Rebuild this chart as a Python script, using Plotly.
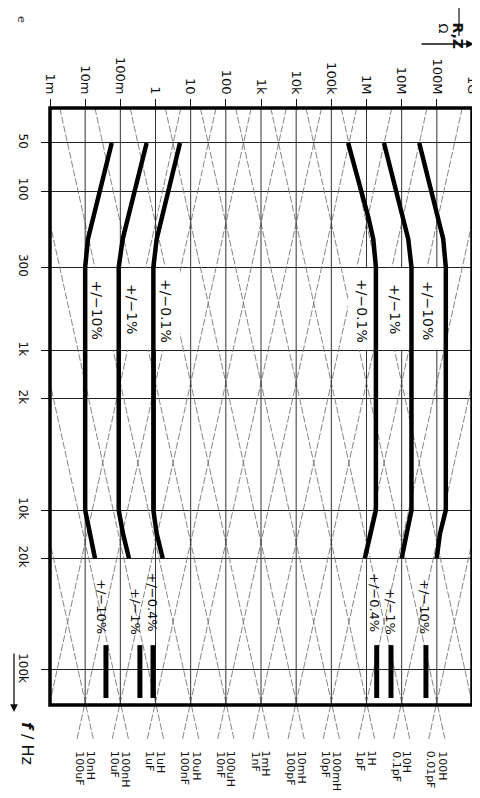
import math
import plotly.graph_objects as go

# ---------------- data ----------------
z_ticks = [1e-3, 1e-2, 1e-1, 1, 10, 100, 1e3, 1e4, 1e5, 1e6, 1e7, 1e8, 1e9]
z_tick_labels = ["1m", "10m", "100m", "1", "10", "100", "1k", "10k", "100k", "1M", "10M", "100M", "1G"]
f_ticks = [50, 100, 300, 1000, 2000, 10000, 20000, 100000]
f_tick_labels = ["50", "100", "300", "1k", "2k", "10k", "20k", "100k"]

# L / C reference lines (decades), labelled below the frame
inductances = [1e-8, 1e-7, 1e-6, 1e-5, 1e-4, 1e-3, 1e-2, 1e-1, 1, 10, 100, 1000]
capacitances = [1e-3, 1e-4, 1e-5, 1e-6, 1e-7, 1e-8, 1e-9, 1e-10, 1e-11, 1e-12, 1e-13, 1e-14]
label_z = [1e-3, 1e-2, 1e-1, 1, 10, 100, 1e3, 1e4, 1e5, 1e6, 1e7, 1e8, 1e9]
c_names = ["1mF", "100uF", "10uF", "1uF", "100nF", "10nF", "1nF", "100pF", "10pF", "1pF", "0.1pF", "0.01pF", ""]
l_names = ["", "10nH", "100nH", "1uH", "10uH", "100uH", "1mH", "10mH", "100mH", "1H", "10H", "100H", "1kH"]

# accuracy boundaries (impedance in ohm vs frequency in Hz)
curve_freq = [50, 100, 145, 200, 300, 10000, 14000, 20000]
z_low_10pct = [0.057, 0.026, 0.017, 0.012, 0.010, 0.010, 0.0137, 0.019]
z_low_1pct = [0.56, 0.26, 0.168, 0.117, 0.09, 0.09, 0.119, 0.176]
z_low_01pct = [4.97, 2.31, 1.56, 1.08, 0.87, 0.87, 1.08, 1.6]
z_high_01pct = [3.0e5, 7.3e5, 1.12e6, 1.56e6, 1.85e6, 1.85e6, 1.26e6, 0.9e6]
z_high_1pct = [3.14e6, 7.2e6, 1.11e7, 1.54e7, 1.9e7, 1.9e7, 1.39e7, 1.0e7]
z_high_10pct = [3.16e7, 7.1e7, 1.1e8, 1.52e8, 1.8e8, 1.8e8, 1.23e8, 0.99e8]

bar_freq = [70000, 150000]
bar_low_10pct = 0.039
bar_low_1pct = 0.36
bar_low_04pct = 0.85
bar_high_04pct = 1.95e6
bar_high_1pct = 4.97e6
bar_high_10pct = 4.9e7

# ---------------- geometry ----------------
# the page body has an 8 px margin, so the figure starts at page (8, 8)
PAGE_OFF = 8
W, H = 480 - PAGE_OFF, 798 - 2 * PAGE_OFF
PLOT_L, PLOT_R, PLOT_T, PLOT_B = 50, 472, 108, 740          # page pixels
L_M = PLOT_L - PAGE_OFF
T_M = PLOT_T - PAGE_OFF
R_M = (PAGE_OFF + W) - PLOT_R
B_M = (PAGE_OFF + H) - PLOT_B
PW, PH = PLOT_R - PLOT_L, PLOT_B - PLOT_T
F_TOP, F_FRAME, F_AX_BOT = 30.2, 166000.0, 275000.0
Z_MIN, Z_MAX = 1e-3, 1e9
LF_TOP, LF_BOT = math.log10(F_TOP), math.log10(F_AX_BOT)


def pxx(p):
    return (p - PLOT_L) / PW


def pxy(p):
    return (PLOT_B - p) / PH


frame_y0 = (LF_BOT - math.log10(F_FRAME)) / (LF_BOT - LF_TOP)

FONT = "DejaVu Sans"
fig = go.Figure()

# diagonal L and C lines
dx, dy = [], []
for Lh in inductances:
    for f in (F_TOP, F_AX_BOT):
        dx.append(2 * math.pi * f * Lh)
        dy.append(f)
    dx.append(None)
    dy.append(None)
for Cf in capacitances:
    for f in (F_TOP, F_AX_BOT):
        dx.append(1 / (2 * math.pi * f * Cf))
        dy.append(f)
    dx.append(None)
    dy.append(None)
fig.add_trace(go.Scatter(x=dx, y=dy, mode="lines",
                         line=dict(color="#777777", width=0.9, dash="7px,2px"),
                         hoverinfo="skip", showlegend=False))

# vertical decade lines inside frame
vx, vy = [], []
for z in z_ticks[1:-1]:
    vx += [z, z, None]
    vy += [F_TOP, F_FRAME, None]
fig.add_trace(go.Scatter(x=vx, y=vy, mode="lines", line=dict(color="#333", width=1),
                         hoverinfo="skip", showlegend=False))

# white label boxes (between 300 Hz and 1 kHz)
box_f0, box_f1 = 300 * 1.012, 1000 / 1.012
boxes = [
    (z_low_10pct[4], z_low_1pct[4]),
    (z_low_1pct[4], z_low_01pct[4]),
    (z_low_01pct[4], z_low_01pct[0]),
    (z_high_01pct[0], z_high_01pct[4]),
    (z_high_01pct[4], z_high_1pct[4]),
    (z_high_1pct[4], z_high_10pct[4]),
]
for z0, z1 in boxes:
    fig.add_trace(go.Scatter(x=[z0, z1, z1, z0, z0], y=[box_f0, box_f0, box_f1, box_f1, box_f0],
                             mode="lines", fill="toself", fillcolor="white",
                             line=dict(width=0, color="white"), hoverinfo="skip", showlegend=False))

# thick accuracy curves
for zs in (z_low_10pct, z_low_1pct, z_low_01pct, z_high_01pct, z_high_1pct, z_high_10pct):
    fig.add_trace(go.Scatter(x=zs, y=curve_freq, mode="lines",
                             line=dict(color="black", width=4.5), hoverinfo="skip", showlegend=False))
for zb in (bar_low_10pct, bar_low_1pct, bar_low_04pct, bar_high_04pct, bar_high_1pct, bar_high_10pct):
    fig.add_trace(go.Scatter(x=[zb, zb], y=bar_freq, mode="lines",
                             line=dict(color="black", width=5), hoverinfo="skip", showlegend=False))

annotations = []
# percentage labels (positions in page pixels)
pct_labels = [
    ("+/−10%", 96.5, 310, 14), ("+/−1%", 132, 309, 14), ("+/−0.1%", 166, 311, 14),
    ("+/−0.1%", 362, 311, 14), ("+/−1%", 395, 309, 14), ("+/−10%", 428, 310, 14),
    ("+/−10%", 102, 606, 13), ("+/−1%", 136, 611, 13), ("+/−0.4%", 152.5, 602, 13),
    ("+/−0.4%", 375, 602, 13), ("+/−1%", 391, 611, 13), ("+/−10%", 425, 606, 13),
]
for t, x, y, s in pct_labels:
    annotations.append(dict(text=t, x=pxx(x), y=pxy(y), xref="paper", yref="paper",
                            showarrow=False, textangle=90, xanchor="center", yanchor="middle",
                            font=dict(family=FONT, size=s, color="#111")))

# L / C labels below the frame
off = 0.156
for z, cn, ln in zip(label_z, c_names, l_names):
    lz = math.log10(z)
    if cn:
        annotations.append(dict(text=cn, x=lz - off, y=pxy(749), xref="x", yref="paper",
                                showarrow=False, textangle=90, xanchor="center", yanchor="top",
                                font=dict(family=FONT, size=11, color="#111")))
    if ln:
        annotations.append(dict(text=ln, x=lz + off, y=pxy(749), xref="x", yref="paper",
                                showarrow=False, textangle=90, xanchor="center", yanchor="top",
                                font=dict(family=FONT, size=11, color="#111")))

# axis titles
annotations.append(dict(text="<b>R,Z</b>", x=pxx(467), y=pxy(20), xref="paper", yref="paper",
                        showarrow=False, textangle=90, font=dict(family=FONT, size=14, color="#111")))
annotations.append(dict(text="Ω", x=pxx(452), y=pxy(21), xref="paper", yref="paper",
                        showarrow=False, textangle=90, font=dict(family=FONT, size=13, color="#111")))
annotations.append(dict(text="", x=pxx(474), y=pxy(44), ax=-54, ay=0,
                        xref="paper", yref="paper", axref="pixel", ayref="pixel",
                        showarrow=True, arrowhead=2, arrowsize=1.2, arrowwidth=1.3, arrowcolor="#111"))
annotations.append(dict(text="<b><i>f</i></b> / Hz", x=pxx(16), y=pxy(767), xref="paper", yref="paper",
                        showarrow=False, textangle=90, font=dict(family=FONT, size=16, color="#111")))
annotations.append(dict(text="", x=pxx(14), y=pxy(712), ax=0, ay=-60,
                        xref="paper", yref="paper", axref="pixel", ayref="pixel",
                        showarrow=True, arrowhead=2, arrowsize=1.2, arrowwidth=1.3, arrowcolor="#111"))
annotations.append(dict(text="e", x=pxx(13), y=pxy(14), xref="paper", yref="paper",
                        showarrow=False, textangle=90, font=dict(family=FONT, size=11, color="#333")))

shapes = [
    dict(type="rect", xref="paper", yref="paper", x0=0, x1=1, y0=frame_y0, y1=1,
         line=dict(color="black", width=3.5), layer="above"),
    dict(type="line", xref="paper", yref="paper", x0=pxx(459), x1=pxx(459), y0=pxy(8), y1=pxy(36),
         line=dict(color="#111", width=1.2)),
]

fig.update_layout(
    width=W, height=H,
    margin=dict(l=L_M, r=R_M, t=T_M, b=B_M, autoexpand=False),
    paper_bgcolor="white", plot_bgcolor="white",
    showlegend=False,
    annotations=annotations,
    shapes=shapes,
    xaxis=dict(type="log", range=[math.log10(Z_MIN), math.log10(Z_MAX)], side="top",
               tickvals=z_ticks, ticktext=z_tick_labels, tickangle=90, automargin=False,
               ticks="outside", ticklen=8, tickwidth=1, tickcolor="#111",
               showgrid=False, zeroline=False, showline=False,
               tickfont=dict(family=FONT, size=13, color="#111")),
    yaxis=dict(type="log", range=[LF_BOT, LF_TOP], automargin=False,
               tickvals=f_ticks, ticktext=f_tick_labels, tickangle=90,
               ticks="outside", ticklen=8, tickwidth=1, tickcolor="#111",
               showgrid=True, gridcolor="#222", gridwidth=1.2, zeroline=False, showline=False,
               ticklabelstandoff=8,
               tickfont=dict(family=FONT, size=12, color="#111")),
)

fig.write_html("out.html")
